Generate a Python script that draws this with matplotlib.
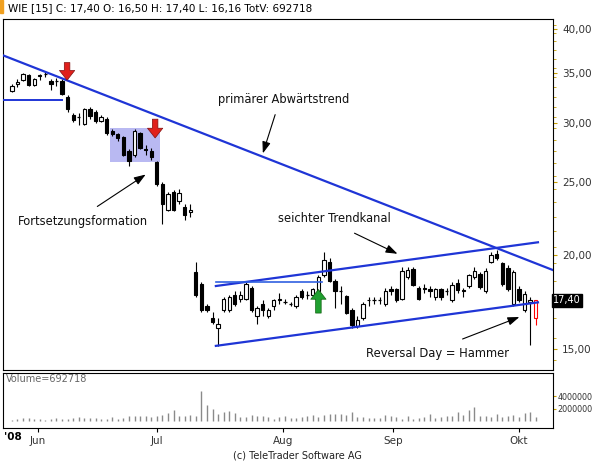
import matplotlib
matplotlib.use("Agg")
import matplotlib.pyplot as plt
import numpy as np
from matplotlib.ticker import FixedLocator, NullFormatter

opens = [33.1,33.8,34.2,34.7,33.7,34.6,34.8,34.1,34.1,34.1,32.5,30.7,30.5,29.9,31.3,31.0,30.2,30.4,29.3,29.0,
         28.7,27.5,27.2,29.1,27.7,27.5,26.6,24.9,23.0,24.3,23.6,23.2,22.8,19.0,18.3,17.1,16.5,16.0,16.9,16.9,
         17.7,17.5,17.5,18.1,16.6,17.2,16.6,17.1,17.45,17.3,17.2,17.1,17.9,17.7,17.7,17.9,18.8,19.6,18.5,17.9,
         17.65,16.9,16.1,16.5,17.4,17.4,17.45,17.2,18.0,18.0,17.5,18.7,19.15,18.1,18.1,18.0,17.6,18.0,17.9,17.4,
         18.35,17.95,18.2,18.7,18.85,17.9,19.6,20.05,19.5,19.2,17.2,18.0,16.9,17.3,16.5]
highs = [33.8,34.3,35.0,34.9,34.4,34.9,35.1,34.3,34.4,34.3,32.7,30.9,30.9,31.4,31.5,31.2,30.7,30.5,29.4,29.1,
         28.8,27.7,29.4,29.2,28.0,27.8,26.7,25.0,24.3,24.4,24.5,23.4,23.4,19.6,18.4,17.2,16.8,16.5,17.6,17.7,
         17.9,17.9,18.4,18.2,17.1,17.4,17.0,17.5,17.8,17.5,17.3,17.7,18.0,17.9,18.1,18.8,20.2,19.8,18.6,18.2,
         17.7,17.0,16.6,17.3,17.6,17.6,17.6,18.1,18.2,18.1,19.3,19.3,19.3,18.2,18.3,18.2,18.1,18.1,18.1,18.4,
         18.6,18.1,18.9,19.3,19.0,19.2,20.2,20.3,19.6,19.4,19.1,18.2,17.9,17.6,17.4]
lows = [33.0,33.5,34.1,33.6,33.6,34.2,34.5,33.2,33.6,32.7,31.0,30.1,29.8,29.8,30.4,30.0,30.1,28.9,28.8,28.4,
        27.1,26.3,27.0,27.7,27.2,26.8,24.7,22.0,22.9,22.9,23.4,22.3,22.5,17.6,16.8,16.8,16.2,15.15,16.8,16.8,
        17.1,17.3,17.4,16.8,16.2,16.6,16.5,16.9,17.2,17.2,17.1,17.0,17.5,17.5,17.6,17.6,18.7,18.4,17.0,17.2,
        16.7,16.0,16.0,16.4,17.1,17.2,17.2,17.1,17.7,17.3,17.4,18.6,18.2,17.4,17.8,17.6,17.4,17.4,17.7,17.3,
        17.8,17.6,18.1,18.6,18.0,17.8,19.5,19.7,18.2,17.9,17.1,17.3,16.8,15.2,16.16]
closes = [33.6,34.0,34.9,33.7,34.3,34.7,34.8,33.8,34.1,32.8,31.3,30.3,30.5,31.3,30.6,30.2,30.5,29.1,29.0,28.6,
          27.2,26.7,29.3,27.8,27.6,27.0,24.9,23.4,24.1,23.0,24.2,22.6,23.0,17.7,16.9,16.9,16.3,16.2,17.5,17.6,
          17.2,17.7,18.3,16.9,17.0,16.9,16.9,17.4,17.5,17.3,17.2,17.6,17.6,17.7,18.0,18.7,19.7,18.5,17.9,17.9,
          16.75,16.15,16.4,17.2,17.45,17.4,17.45,17.9,17.9,17.4,19.05,19.1,18.25,17.5,18.05,17.9,18.0,17.6,17.9,18.25,
          17.95,17.9,18.8,19.05,18.15,19.05,20.0,19.85,18.3,18.0,19.0,17.4,17.75,17.45,17.4]
volumes_m = [0.13,0.26,0.43,0.43,0.34,0.34,0.17,0.26,0.47,0.26,0.34,0.47,0.6,0.47,0.51,0.47,0.26,0.26,0.68,0.34,
             0.47,0.85,0.85,0.85,0.85,0.55,0.77,0.98,1.28,1.75,0.85,0.85,0.98,0.85,4.81,2.56,1.96,1.11,1.49,1.53,
             1.28,0.55,0.64,0.98,0.77,0.77,0.55,0.34,0.64,0.85,0.47,0.47,0.64,0.85,0.98,0.55,0.98,1.11,1.19,1.19,
             0.98,1.49,0.68,0.68,0.43,0.43,0.43,0.89,0.77,0.64,0.34,0.77,0.34,0.43,0.64,1.19,0.47,0.55,0.77,0.77,
             1.41,0.98,1.7,2.26,0.77,0.77,0.55,1.19,0.68,0.77,0.98,0.68,1.28,1.41,0.69]
month_labels = ["Jun", "Jul", "Aug", "Sep", "Okt"]
month_pos = [4.7, 26.0, 48.6, 68.4, 91.0]
price_ticks = [15, 20, 25, 30, 35, 40]

W, H = 595, 463
fig = plt.figure(figsize=(W/100, H/100), dpi=100)
def rect(l, t, r, b):
    return [l/W, 1-b/H, (r-l)/W, (b-t)/H]

ax = fig.add_axes(rect(3, 19, 553, 370))
axv = fig.add_axes(rect(3, 373, 553, 428))

n = len(closes)
idx = np.arange(n)
bw = 0.6
for i in idx:
    o, h, l, c = opens[i], highs[i], lows[i], closes[i]
    last = (i == n-1)
    ec = 'red' if last else 'black'
    ax.vlines(i, l, h, color=ec, lw=0.8, zorder=3)
    up = c >= o
    fc = 'white' if up else 'black'
    lo, hi = min(o, c), max(o, c)
    if hi - lo < 0.05:
        ax.hlines(lo, i-bw/2, i+bw/2, color=ec, lw=0.9, zorder=4)
    else:
        ax.add_patch(plt.Rectangle((i-bw/2, lo), bw, hi-lo, facecolor=fc, edgecolor=ec, lw=0.8, zorder=4))

ax.set_yscale('log')
ax.set_ylim(14.06, 41.25)
ax.set_xlim(-1.6, 97.1)
ax.yaxis.tick_right()
ax.yaxis.set_major_locator(FixedLocator(price_ticks))
ax.yaxis.set_minor_locator(FixedLocator(np.arange(14.5, 41, 1.0)))
ax.yaxis.set_minor_formatter(NullFormatter())
ax.set_yticklabels([f"{v},00" for v in price_ticks], fontsize=7.5, color='#333333')
ax.tick_params(axis='y', which='major', length=3, color='#c8a000')
ax.tick_params(axis='y', which='minor', length=2, color='#c8a000')
ax.set_xticks([])

blue = '#1f35d6'
ax.plot([-1.6, 97.1], [36.9, 19.1], color=blue, lw=1.6, zorder=5)
ax.plot([-1.6, 9], [32.2, 32.2], color=blue, lw=1.4, zorder=5)
ax.plot([36.6, 94.4], [18.19, 20.8], color=blue, lw=1.6, zorder=5)
ax.plot([36.6, 94.4], [15.14, 17.3], color=blue, lw=1.6, zorder=5)
ax.plot([36.6, 55.7], [18.4, 18.4], color='#3060e0', lw=1.2, zorder=5)
ax.add_patch(plt.Rectangle((17.6, 26.6), 9.0, 2.9, facecolor='#b9b9f2', edgecolor='none', zorder=1))

astyle = 'simple,head_width=1.1,head_length=0.7,tail_width=0.4'
for xi, ytop, ybot in [(9.9, 36.4, 33.9), (25.7, 30.6, 28.4)]:
    ax.annotate('', xy=(xi, ybot), xytext=(xi, ytop),
                arrowprops=dict(arrowstyle=astyle, fc='#e0201c', ec='#801010', lw=0.5), zorder=6)
ax.annotate('', xy=(55.0, 18.15), xytext=(55.0, 16.6),
            arrowprops=dict(arrowstyle=astyle, fc='#20a030', ec='#106010', lw=0.5), zorder=6)

def fp(x, y):
    return (x, H - y)
notes = [("primärer Abwärtstrend", (218, 100), (276, 112), (262, 156)),
         ("Fortsetzungsformation", (18, 221), (95, 208), (148, 173)),
         ("seichter Trendkanal", (278, 218), (352, 232), (400, 255)),
         ("Reversal Day = Hammer", (366, 353), (460, 340), (522, 316))]
for txt, tp, a0, a1 in notes:
    fig.text(tp[0]/W, 1-tp[1]/H, txt, fontsize=8.3, va='center', ha='left', color='#111111')
    ax.annotate('', xy=fp(*a1), xycoords='figure pixels', xytext=fp(*a0), textcoords='figure pixels',
                arrowprops=dict(arrowstyle='-|>,head_width=0.25,head_length=0.7', color='black', lw=0.8))

ax.text(1.0, 17.4, "17,40", transform=ax.get_yaxis_transform(), fontsize=7, color='white',
        va='center', ha='left', bbox=dict(boxstyle='square,pad=0.15', fc='black', ec='black'), zorder=10)

axv.vlines(idx, 0, volumes_m, color='#8a8a8a', lw=1.0)
axv.set_xlim(-1.6, 97.1)
axv.set_ylim(-1.17, 7.8)
axv.yaxis.tick_right()
axv.set_yticks([2, 4])
axv.set_yticklabels(["2000000", "4000000"], fontsize=5.8, color='#333333')
axv.tick_params(axis='y', length=2, pad=1, color='#c8a000')
axv.set_xticks(month_pos)
axv.set_xticklabels(month_labels, fontsize=7.5, color='#333333')
axv.tick_params(axis='x', length=3, pad=3)
axv.text(0.005, 0.9, "Volume=692718", transform=axv.transAxes, fontsize=7, color='#666666', va='center')
fig.text(4/W, 1-437/H, "'08", fontsize=7.5, fontweight='bold', va='center')

fig.add_artist(plt.Rectangle((0, 1-13/H), 3/W, 13/H, color='#f0a020', transform=fig.transFigure))
fig.text(8/W, 1-8/H, "WIE [15] C: 17,40 O: 16,50 H: 17,40 L: 16,16 TotV: 692718", fontsize=7.5, va='center')
fig.text(297/W, 1-455/H, "(c) TeleTrader Software AG", fontsize=7, ha='center', va='center', color='#222222')

fig.savefig("out.png", dpi=100)
